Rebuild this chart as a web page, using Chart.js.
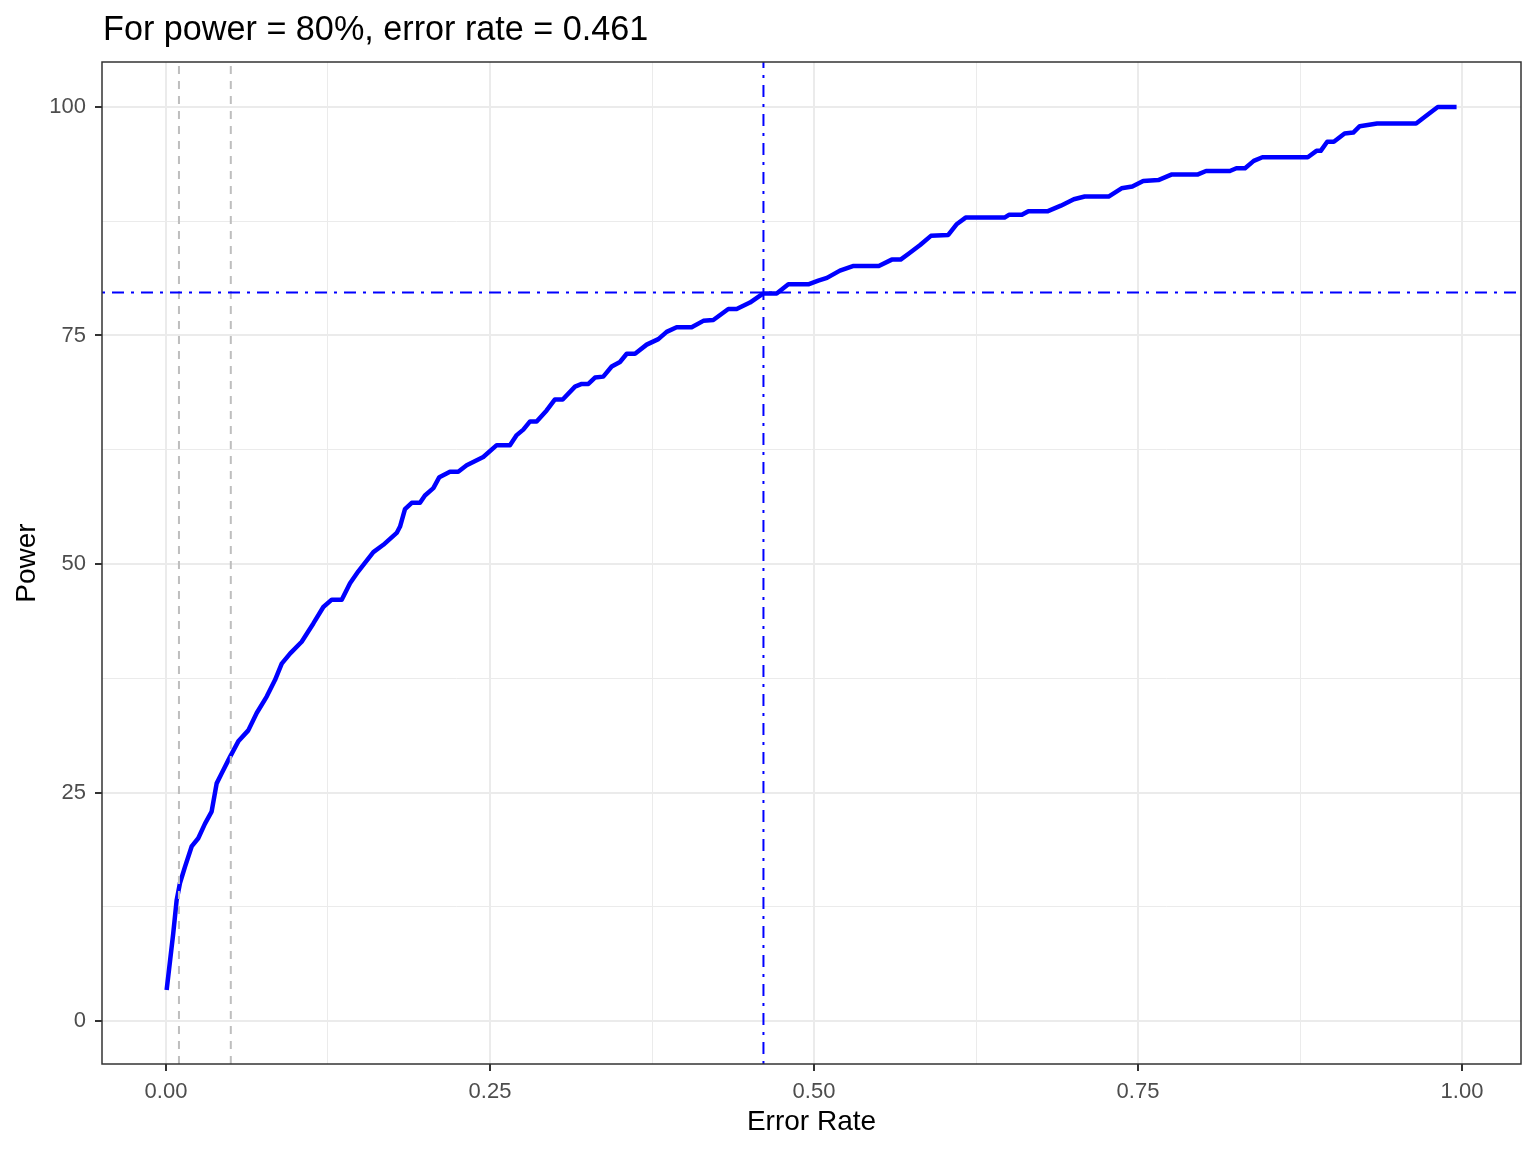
<!DOCTYPE html>
<html>
<head>
<meta charset="utf-8">
<script src="https://cdn.jsdelivr.net/npm/chart.js@4.4.1/dist/chart.umd.min.js"></script>
<style>
body{margin:0;background:#fff}
#wrap{width:1536px;height:1152px}
</style>
</head>
<body>
<div id="wrap"><canvas id="powerChart" width="1536" height="1152"></canvas></div>
<script>

// curve
const errorRate=[0.0005,0.0056,0.0082,0.0108,0.0147,0.0198,0.0249,0.0301,0.0352,0.0391,0.0430,0.0494,0.0558,0.0635,0.0700,0.0777,0.0841,0.0893,0.0957,0.1047,0.1137,0.1214,0.1279,0.1356,0.1420,0.1484,0.1600,0.1677,0.1780,0.1806,
0.1844,0.1896,0.1960,0.1998,0.2063,0.2109,0.2191,0.2255,0.2320,0.2448,0.2552,0.2654,0.2706,0.2757,0.2809,0.2860,0.2937,0.3001,0.3061,0.3156,0.3208,0.3259,0.3310,0.3374,0.3439,0.3503,0.3555,0.3619,0.3709,0.3799,0.3863,0.3940,0.4056,0.4146,0.4223,0.4339,0.4403,0.4506,0.4609,0.4712,0.4802,0.4956,
0.5033,0.5100,0.5200,0.5300,0.5500,0.5600,0.5668,0.5735,0.5819,0.5902,0.6036,0.6103,0.6170,0.6470,0.6504,0.6604,0.6654,0.6805,0.6905,0.7005,0.7089,0.7273,0.7373,0.7456,0.7540,0.7657,0.7757,0.7958,0.8025,0.8209,0.8259,0.8326,0.8393,0.8460,0.8810,0.8877,0.8910,0.8960,0.9011,0.9094,0.9161,0.9211,0.9345,0.9646,0.9729,0.9813,0.9958]

const power=[3.4,9.6,13.2,15.1,16.9,19.1,20.0,21.6,22.9,26.0,27.1,28.9,30.6,31.8,33.7,35.5,37.3,39.1,40.2,41.5,43.5,45.3,46.1,46.1,47.9,49.2,51.3,52.1,53.4,54.1,
56.0,56.7,56.7,57.5,58.3,59.5,60.1,60.1,60.8,61.7,63.0,63.0,64.1,64.7,65.6,65.6,66.8,68.0,68.0,69.4,69.7,69.7,70.4,70.5,71.6,72.1,73.0,73.0,74.0,74.6,75.4,75.9,75.9,76.6,76.7,77.9,77.9,78.6,79.6,79.6,80.6,80.6,
81.0,81.3,82.1,82.6,82.6,83.3,83.3,84.0,84.9,85.9,86.0,87.2,87.9,87.9,88.2,88.2,88.6,88.6,89.2,89.9,90.2,90.2,91.1,91.3,91.9,92.0,92.6,92.6,93.0,93.0,93.3,93.3,94.1,94.5,94.5,95.2,95.2,96.2,96.2,97.1,97.2,97.9,98.2,98.2,99.1,100,100]

const alphaLines=[0.01,0.05]
const errorAtTarget=0.461
const powerTarget=79.7

const xMajor=[0,0.25,0.5,0.75,1]
const xMinor=[0.125,0.375,0.625,0.875]
const xTickLabels=["0.00","0.25","0.50","0.75","1.00"]
const yMajor=[0,25,50,75,100]
const yMinor=[12.5,37.5,62.5,87.5]
const yTickLabels=["0","25","50","75","100"]

const titleText="For power = 80%, error rate = 0.461"

const FONT='"Liberation Sans", Arial, sans-serif'

function setTicks(major,minor){
return scale=>{
scale.ticks=major.concat(minor).sort((a,b)=>a-b).map(v=>({value:v}))
}
}

function isMajor(list,v){
return list.some(m=>Math.abs(m-v)<1e-9)
}

const extras={
id:'extras',
afterDatasetsDraw(chart){
const {ctx,chartArea:a,scales:{x,y}}=chart
ctx.save()
ctx.beginPath()
ctx.rect(a.left,a.top,a.right-a.left,a.bottom-a.top)
ctx.clip()

ctx.lineWidth=2
ctx.strokeStyle='#BEBEBE'
ctx.setLineDash([8,7])
alphaLines.forEach(v=>{
const px=x.getPixelForValue(v)
ctx.beginPath()
ctx.moveTo(px,a.bottom)
ctx.lineTo(px,a.top)
ctx.stroke()
})

ctx.strokeStyle='#0000FF'
ctx.setLineDash([3,7,12,7])
const vx=x.getPixelForValue(errorAtTarget)
ctx.beginPath()
ctx.moveTo(vx,a.bottom)
ctx.lineTo(vx,a.top)
ctx.stroke()
const hy=y.getPixelForValue(powerTarget)
ctx.beginPath()
ctx.moveTo(a.left,hy)
ctx.lineTo(a.right,hy)
ctx.stroke()
ctx.restore()
},
afterDraw(chart){
const {ctx,chartArea:a}=chart
ctx.save()
ctx.strokeStyle='#333333'
ctx.lineWidth=1.5
ctx.strokeRect(a.left,a.top,a.right-a.left,a.bottom-a.top)
ctx.fillStyle='#000'
ctx.font='34.2px '+FONT
ctx.textBaseline='alphabetic'
ctx.textAlign='left'
ctx.fillText(titleText,a.left+1,40)
ctx.restore()
}
}

new Chart(
document.getElementById("powerChart"),
{
type:'line',
data:{
datasets:[{
label:'Power',
data:errorRate.map((e,i)=>({x:e,y:power[i]})),
borderColor:'#0000FF',
borderWidth:4.5,
borderJoinStyle:'round',
pointRadius:0,
tension:0,
fill:false
}]
},
options:{
responsive:false,
animation:false,
devicePixelRatio:1,
layout:{padding:{top:62,right:15,left:0,bottom:0}},
plugins:{legend:{display:false},tooltip:{enabled:false},title:{display:false}},
scales:{
x:{
type:'linear',
min:-0.04938,
max:1.04552,
afterBuildTicks:setTicks(xMajor,xMinor),
afterFit:s=>{s.height=88},
ticks:{
autoSkip:false,
maxRotation:0,
padding:8,
color:'#4D4D4D',
font:{family:FONT,size:22},
callback:v=>{
const i=xMajor.findIndex(m=>Math.abs(m-v)<1e-9)
return i<0?'':xTickLabels[i]
}
},
grid:{
color:'#EBEBEB',
lineWidth:c=>isMajor(xMajor,c.tick.value)?2:1,
tickLength:7,
tickColor:c=>isMajor(xMajor,c.tick.value)?'#333333':'rgba(0,0,0,0)',
tickWidth:2
},
border:{display:false},
title:{display:true,text:'Error Rate',color:'#000',font:{family:FONT,size:28},padding:{top:0,bottom:13}}
},
y:{
type:'linear',
min:-4.70,
max:104.92,
afterBuildTicks:setTicks(yMajor,yMinor),
afterFit:s=>{s.width=102},
ticks:{
autoSkip:false,
padding:9,
color:'#4D4D4D',
font:{family:FONT,size:22},
callback:v=>{
const i=yMajor.findIndex(m=>Math.abs(m-v)<1e-9)
return i<0?'':yTickLabels[i]
}
},
grid:{
color:'#EBEBEB',
lineWidth:c=>isMajor(yMajor,c.tick.value)?2:1,
tickLength:7,
tickColor:c=>isMajor(yMajor,c.tick.value)?'#333333':'rgba(0,0,0,0)',
tickWidth:2
},
border:{display:false},
title:{display:true,text:'Power',color:'#000',font:{family:FONT,size:28},padding:{top:10.5,bottom:0}}
}
}
},
plugins:[extras]
})

</script>
</body>
</html>
